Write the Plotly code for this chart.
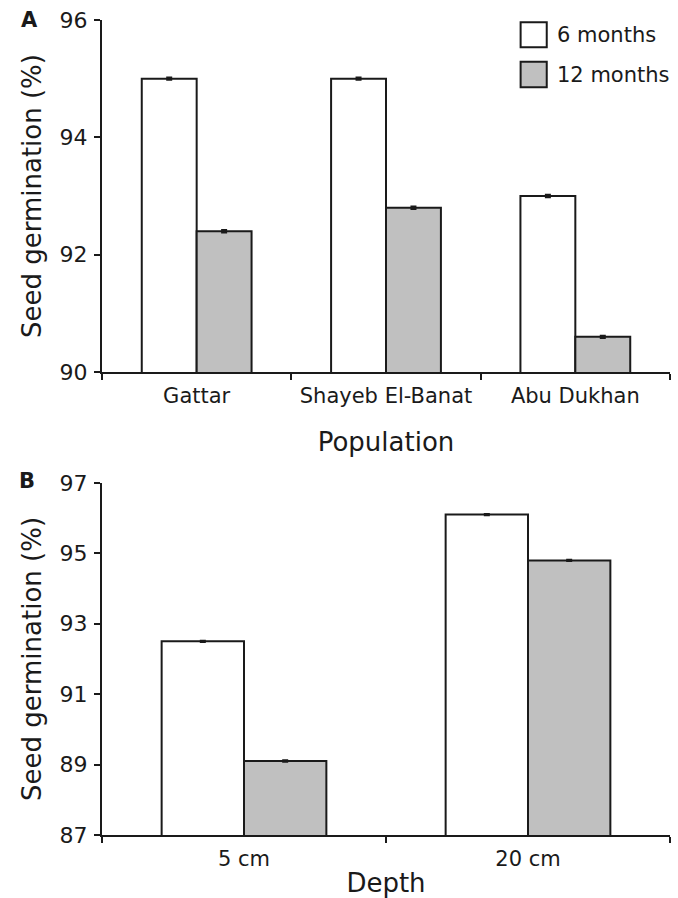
import plotly.graph_objects as go

# Data
populations = ["Gattar", "Shayeb El-Banat", "Abu Dukhan"]
pop_6m = [95.0, 95.0, 93.0]
pop_12m = [92.4, 92.8, 90.6]
pop_6m_err = [0.02, 0.02, 0.02]
pop_12m_err = [0.02, 0.02, 0.02]

depths = ["5 cm", "20 cm"]
depth_6m = [92.5, 96.1]
depth_12m = [89.1, 94.8]
depth_6m_err = [0.02, 0.02]
depth_12m_err = [0.02, 0.02]

series_names = ["6 months", "12 months"]
fill_colors = ["#ffffff", "#c0c0c0"]

FONT = "DejaVu Sans"
INK = "#1a1a1a"

fig = go.Figure()

def add_bar(x, y, err, name, color, xa, ya):
    fig.add_trace(go.Bar(
        x=x, y=y, name=name, xaxis=xa, yaxis=ya,
        marker=dict(color=color, line=dict(color=INK, width=2)),
        error_y=dict(type="data", array=err, visible=True, color=INK, thickness=2, width=3),
        showlegend=False,
    ))

add_bar(populations, pop_6m, pop_6m_err, series_names[0], fill_colors[0], "x", "y")
add_bar(populations, pop_12m, pop_12m_err, series_names[1], fill_colors[1], "x", "y")
add_bar(depths, depth_6m, depth_6m_err, series_names[0], fill_colors[0], "x2", "y2")
add_bar(depths, depth_12m, depth_12m_err, series_names[1], fill_colors[1], "x2", "y2")

xcommon = dict(
    type="category", showline=True, linecolor=INK, linewidth=2,
    ticks="outside", tickson="boundaries", ticklen=6, tickwidth=2, tickcolor=INK,
    showgrid=False, zeroline=False, automargin=False, ticklabelstandoff=4,
    tickfont=dict(family=FONT, size=21, color=INK),
)
ycommon = dict(
    showline=True, linecolor=INK, linewidth=2,
    ticks="outside", ticklen=6, tickwidth=2, tickcolor=INK,
    showgrid=False, zeroline=False, dtick=2, automargin=False, ticklabelstandoff=2,
    tickfont=dict(family=FONT, size=22, color=INK),
)
title_font = dict(family=FONT, size=26, color=INK)

fig.update_layout(
    width=678, height=898,
    margin=dict(l=102, r=8, t=20, b=63),
    paper_bgcolor="white", plot_bgcolor="white",
    barmode="group", bargap=0.42, bargroupgap=0,
    font=dict(family=FONT, color=INK),
    xaxis=dict(**xcommon, domain=[0, 1], anchor="y", range=[-0.5, 2.5],
               title=dict(text="Population", font=title_font, standoff=26)),
    yaxis=dict(**ycommon, domain=[0.568, 1], anchor="x", range=[90, 96], tick0=90,
               title=dict(text="Seed germination (%)", font=title_font, standoff=10)),
    xaxis2=dict(**xcommon, domain=[0, 1], anchor="y2", range=[-0.5, 1.5],
                title=dict(text="Depth", font=title_font, standoff=8)),
    yaxis2=dict(**ycommon, domain=[0, 0.432], anchor="x2", range=[87, 97], tick0=87,
                title=dict(text="Seed germination (%)", font=title_font, standoff=10)),
)

# Panel letters
fig.add_annotation(text="<b>A</b>", xref="paper", yref="paper", x=-0.128, y=1.0,
                   xanchor="center", yanchor="middle", showarrow=False,
                   font=dict(family=FONT, size=21, color=INK))
fig.add_annotation(text="<b>B</b>", xref="paper", yref="paper", x=-0.132, y=0.434,
                   xanchor="center", yanchor="middle", showarrow=False,
                   font=dict(family=FONT, size=21, color=INK))

# Legend (manual, large swatches)
legend_y = [(0.9665, 0.9973), (0.9174, 0.9488)]
for (y0, y1), name, col in zip(legend_y, series_names, fill_colors):
    fig.add_shape(type="rect", xref="paper", yref="paper", x0=0.737, x1=0.783, y0=y0, y1=y1,
                  fillcolor=col, line=dict(color=INK, width=2))
    fig.add_annotation(text=name, xref="paper", yref="paper", x=0.797, y=(y0 + y1) / 2,
                       xanchor="left", yanchor="middle", showarrow=False,
                       font=dict(family=FONT, size=21, color=INK))

fig.write_html("out.html", config={"displayModeBar": False},
               post_script="document.body.style.margin='0';document.body.style.overflow='hidden';")
